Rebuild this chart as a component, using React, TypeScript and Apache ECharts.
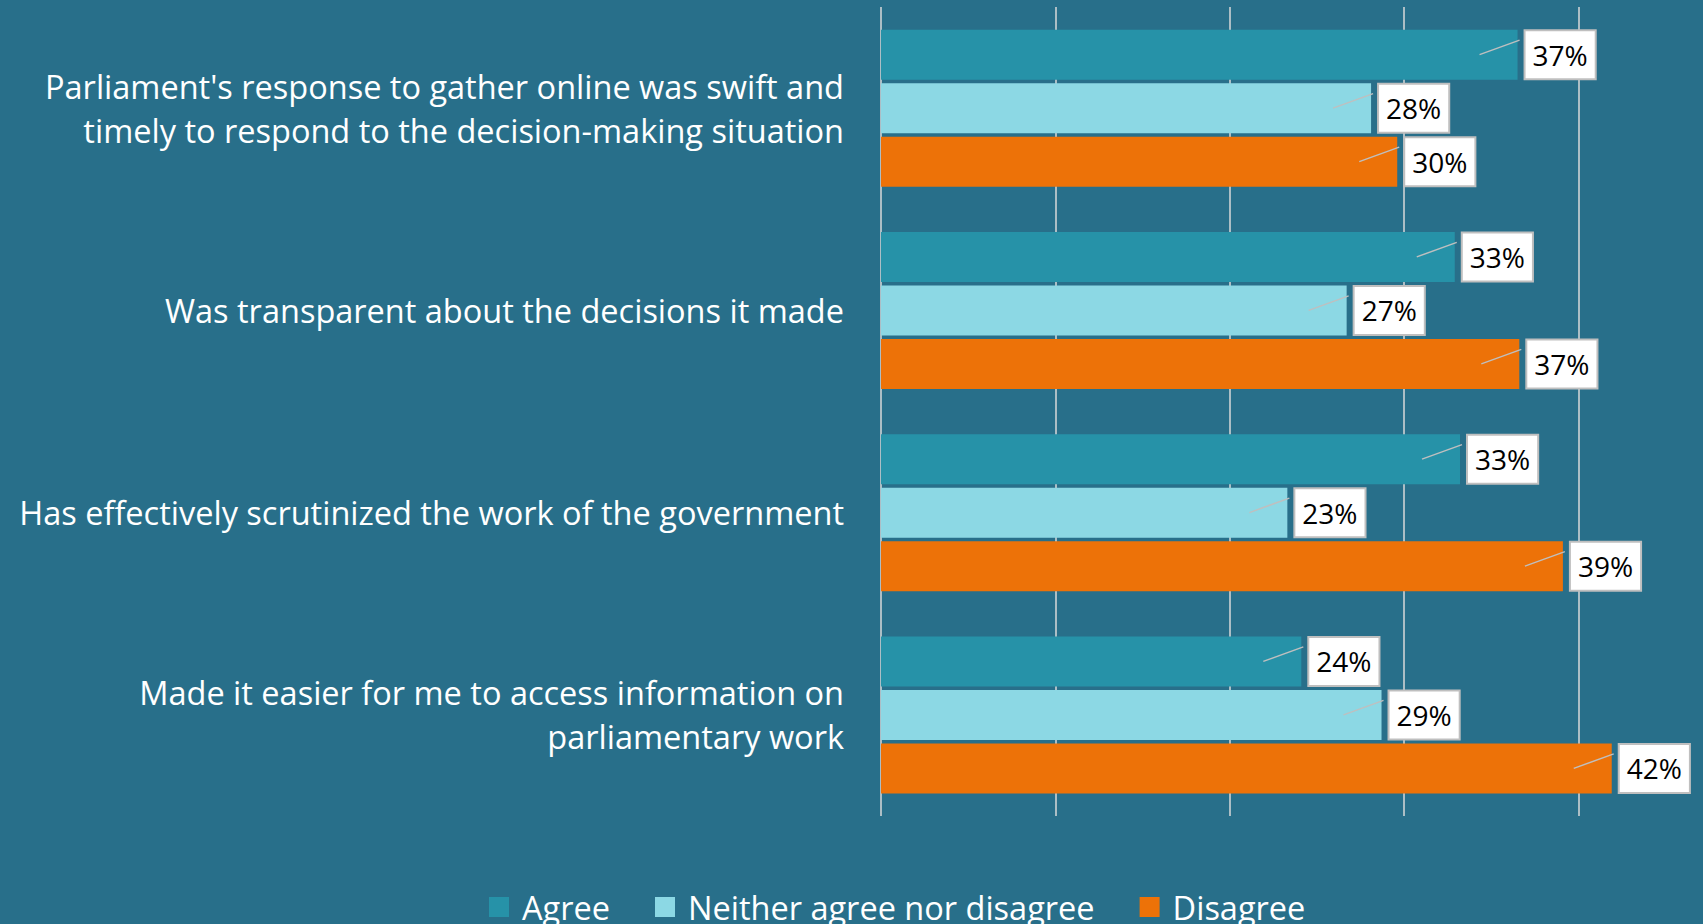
import React, { useEffect, useRef } from "react";
import * as echarts from "echarts";

const categories = [
  "Parliament's response to gather online was swift and\ntimely to respond to the decision-making situation",
  "Was transparent about the decisions it made",
  "Has effectively scrutinized the work of the government",
  "Made it easier for me to access information on\nparliamentary work",
];
const seriesNames = ["Agree", "Neither agree nor disagree", "Disagree"];
const agree = [36.5, 32.9, 33.2, 24.1];
const neither = [28.1, 26.7, 23.3, 28.7];
const disagree = [29.6, 36.6, 39.1, 41.9];
const xTicks = [0, 10, 20, 30, 40, 50];

const colors = ["#2692A8", "#8CD8E4", "#ED7208"];
const BG = "#286F8A";
const FONT = "'Open Sans'";
const BAR_W = 50;
const BAR_GAP = 3.5;

export default function App() {
  const ref = useRef<HTMLDivElement>(null);
  useEffect(() => {
    if (!ref.current) return;
    const chart = echarts.init(ref.current, null, { renderer: "svg" });
    const allSeries = [agree, neither, disagree];
    const leaderData: number[][] = [];
    allSeries.forEach((arr, si) => arr.forEach((v, ci) => leaderData.push([v, ci, si])));

    const barSeries = allSeries.map((arr, si) => ({
      name: seriesNames[si],
      type: "bar",
      data: arr,
      barWidth: BAR_W,
      barGap: ((BAR_GAP / BAR_W) * 100).toFixed(1) + "%",
      itemStyle: { color: colors[si] },
      label: {
        show: true,
        position: "right",
        distance: 8,
        formatter: (p: any) => Math.round(p.value) + "%",
        color: "#000",
        fontFamily: FONT,
        fontSize: 28,
        lineHeight: 33,
        backgroundColor: "#ffffff",
        borderColor: "#BFBFBF",
        borderWidth: 2,
        padding: [7, 7, 7, 7],
      },
      z: 2,
    }));

    chart.setOption({
      animation: false,
      backgroundColor: BG,
      textStyle: { fontFamily: FONT },
      grid: { left: 881, width: 872, top: 7, height: 809, containLabel: false },
      legend: {
        data: seriesNames,
        left: 484,
        top: 885,
        icon: "rect",
        itemWidth: 20,
        itemHeight: 20,
        itemGap: 45,
        textStyle: { color: "#fff", fontFamily: FONT, fontSize: 32.5, lineHeight: 34, padding: [0, 0, 0, 8] },
      },
      xAxis: {
        type: "value",
        min: xTicks[0],
        max: xTicks[xTicks.length - 1],
        interval: 10,
        axisLabel: { show: false },
        axisLine: { show: false },
        axisTick: { show: false },
        splitLine: { show: true, lineStyle: { color: "#D9D9D9", width: 1.5 } },
      },
      yAxis: {
        type: "category",
        inverse: true,
        data: categories,
        axisLine: { show: false },
        axisTick: { show: false },
        axisLabel: {
          color: "#fff",
          fontFamily: FONT,
          fontSize: 32.5,
          lineHeight: 44,
          margin: 37,
          align: "right",
          padding: [0, 0, 4, 0],
        },
      },
      series: [
        ...barSeries,
        {
          type: "custom",
          name: "leader",
          silent: true,
          z: 3,
          data: leaderData,
          encode: { x: 0, y: 1 },
          renderItem: (params: any, api: any) => {
            const v = api.value(0);
            const c = api.value(1);
            const si = api.value(2);
            const pt = api.coord([v, c]);
            const cy = pt[1] + (si - 1) * (BAR_W + BAR_GAP);
            return {
              type: "line",
              shape: { x1: pt[0] - 38, y1: cy, x2: pt[0] + 2, y2: cy - 14.5 },
              style: { stroke: "#BFBFBF", lineWidth: 1.5 },
            };
          },
        },
      ],
    });
    return () => chart.dispose();
  }, []);
  return (
    <div style={{ position: "absolute", left: 0, top: 0, width: 1703, height: 924, overflow: "hidden", background: BG }}>
      <div ref={ref} style={{ width: 1760, height: 924 }} />
    </div>
  );
}
